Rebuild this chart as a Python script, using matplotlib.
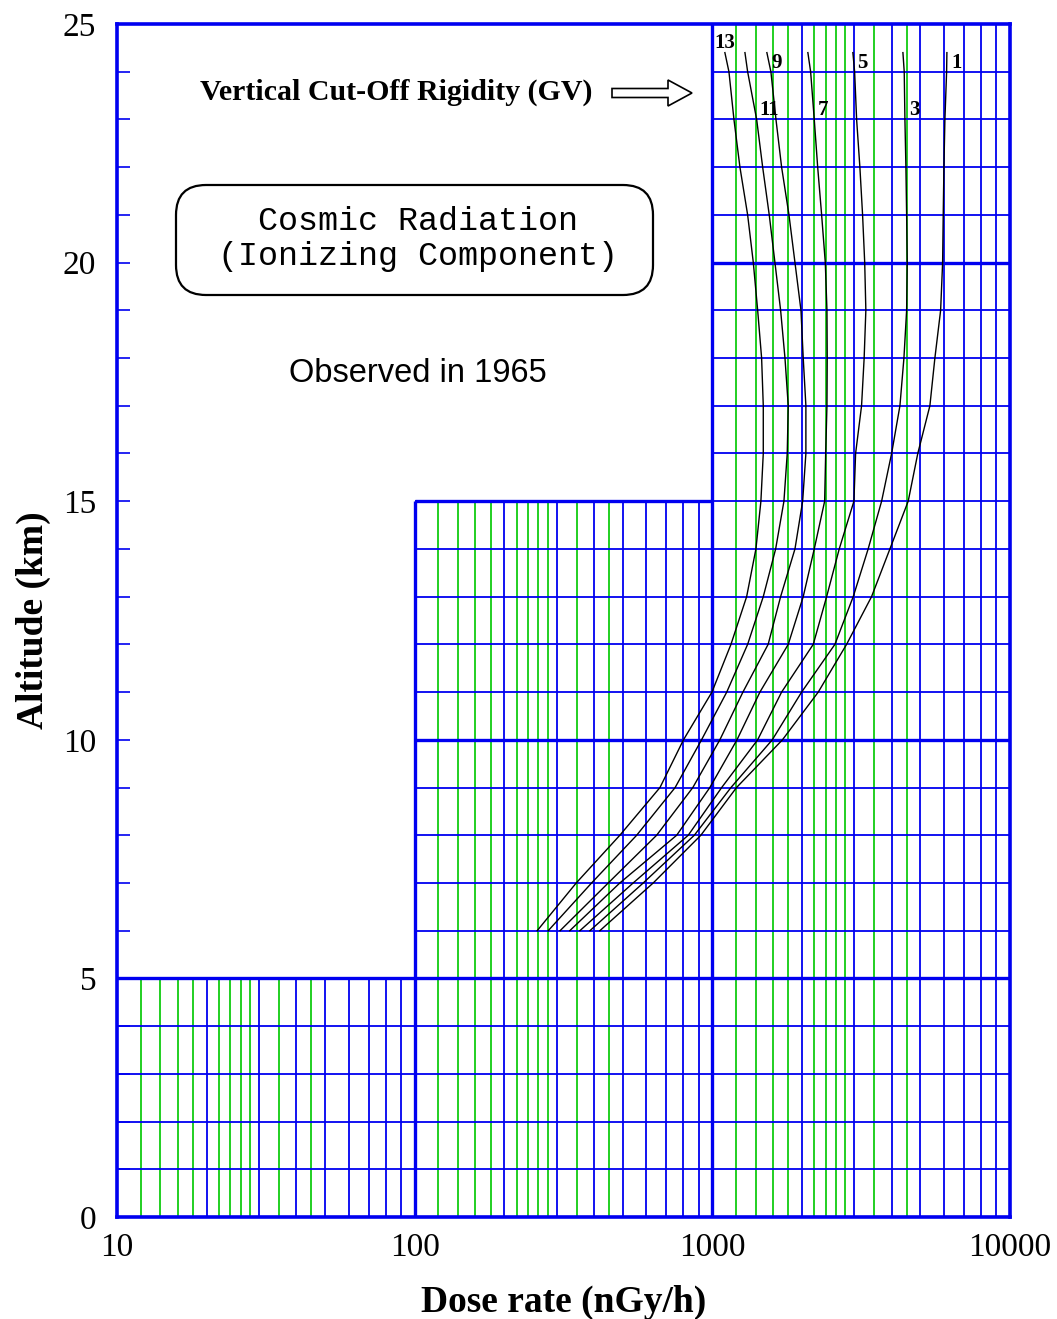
import numpy as np
import matplotlib
matplotlib.use("Agg")
import matplotlib.pyplot as plt
from matplotlib.patches import FancyArrow, FancyBboxPatch
from matplotlib.ticker import NullLocator, FixedLocator

# altitude (km) at which each curve was read
altitude = [6, 7, 8, 9, 10, 11, 12, 13, 14, 15, 16, 17, 18, 19, 20, 21, 22, 23, 24, 24.4]

# vertical cut-off rigidity (GV) of each curve
rigidity = ["13", "11", "9", "7", "5", "3", "1"]

# dose rate (nGy/h) of each curve at the altitudes above
dose_13 = [258, 349, 489, 667, 800, 997, 1155, 1304, 1401, 1456, 1483, 1483, 1464, 1420, 1373, 1314, 1238, 1182, 1137, 1102]
dose_11 = [281, 393, 557, 750, 920, 1118, 1314, 1483, 1632, 1740, 1785, 1799, 1754, 1696, 1623, 1553, 1476, 1409, 1314, 1287]
dose_9 = [308, 447, 650, 860, 1060, 1267, 1540, 1696, 1895, 2011, 2062, 2062, 2020, 1985, 1895, 1809, 1709, 1636, 1573, 1525]
dose_7 = [332, 489, 759, 981, 1210, 1445, 1799, 2020, 2200, 2384, 2403, 2427, 2432, 2427, 2396, 2329, 2259, 2200, 2139, 2094]
dose_5 = [359, 542, 830, 1075, 1420, 1709, 2183, 2421, 2669, 2990, 3029, 3172, 3236, 3279, 3250, 3197, 3131, 3053, 3006, 2966]
dose_3 = [388, 586, 870, 1155, 1590, 1995, 2581, 2974, 3338, 3704, 4002, 4268, 4402, 4495, 4516, 4495, 4470, 4436, 4412, 4368]
dose_1 = [419, 633, 915, 1206, 1720, 2269, 2825, 3427, 3950, 4550, 4900, 5381, 5593, 5847, 5938, 5966, 5998, 6044, 6124, 6138]
doses = [dose_13, dose_11, dose_9, dose_7, dose_5, dose_3, dose_1]

x_ticks = [10, 100, 1000, 10000]
x_tick_labels = ["10", "100", "1000", "10000"]

BLUE = "#0000f0"
GREEN = "#10cc10"
SERIF = "Liberation Serif"

W, H = 1057, 1319
fig = plt.figure(figsize=(W / 100, H / 100), dpi=100)
ax = fig.add_axes([117 / W, 1 - 1217 / H, (1010 - 117) / W, (1217 - 24) / H])
ax.set_xscale("log")
ax.set_xlim(10, 10000)
ax.set_ylim(0, 25)

# stepped graph-paper grid
green_mant = [1.2, 1.4, 1.6, 1.8, 2.2, 2.4, 2.6, 2.8, 3.5, 4.5]
blue_mant = [2, 3, 4, 5, 6, 7, 8, 9]
region_top = {10: 5, 100: 15, 1000: 25}
thin, thick = 1.3, 2.4
for d, top in region_top.items():
    ax.vlines([d * m for m in green_mant], 0, top, color=GREEN, lw=thin, zorder=1)
    ax.vlines([d * m for m in blue_mant], 0, top, color=BLUE, lw=thin, zorder=1)
ax.vlines(100, 0, 15, color=BLUE, lw=thick, zorder=2)
ax.vlines(1000, 0, 25, color=BLUE, lw=thick, zorder=2)
for h in range(1, 25):
    x0 = 10 if h <= 5 else (100 if h <= 15 else 1000)
    ax.hlines(h, x0, 10000, color=BLUE, lw=thick if h in (5, 10, 20) else thin, zorder=2)
ax.hlines(15, 100, 1000, color=BLUE, lw=thick, zorder=2)

for s in ax.spines.values():
    s.set_color(BLUE)
    s.set_linewidth(2.6)

# curves
for i, (lab, d) in enumerate(zip(rigidity, doses)):
    ax.plot(d, altitude, color="black", lw=1.0, zorder=3)
    if i == 0:
        ax.annotate(lab, (d[-1], altitude[-1]), xytext=(0, 0), textcoords="offset points",
                    ha="center", va="bottom", fontsize=15, fontweight="bold", family=SERIF)
    elif i % 2 == 0:
        ax.annotate(lab, (d[-1], altitude[-1]), xytext=(3, 0), textcoords="offset points",
                    ha="left", va="top", fontsize=15, fontweight="bold", family=SERIF)
    else:
        y = 23.2
        x = np.interp(y, altitude, d)
        ax.annotate(lab, (x, y), xytext=(3, 0), textcoords="offset points",
                    ha="left", va="center", fontsize=15, fontweight="bold", family=SERIF)

# ticks
ax.set_xticks(x_ticks)
ax.set_xticklabels(x_tick_labels)
ax.xaxis.set_minor_locator(NullLocator())
ax.tick_params(axis="x", length=0, pad=11, labelsize=24)
ax.yaxis.set_major_locator(FixedLocator([0, 5, 10, 15, 20, 25]))
ax.yaxis.set_minor_locator(FixedLocator([h for h in range(1, 25) if h % 5]))
ax.tick_params(axis="y", which="both", direction="in", length=9.5, width=1.2,
               color=BLUE, pad=15, labelsize=24)
for t in ax.get_xticklabels() + ax.get_yticklabels():
    t.set_family(SERIF)

ax.set_xlabel("Dose rate (nGy/h)", fontsize=27, fontweight="bold", family=SERIF)
ax.xaxis.set_label_coords(0.5, -0.057)
ax.set_ylabel("Altitude (km)", fontsize=27, fontweight="bold", family=SERIF)
ax.yaxis.set_label_coords(-0.074, 0.5)

# annotations
fig.text(200 / W, 1 - 92 / H, "Vertical Cut-Off Rigidity (GV)", ha="left", va="center",
         fontsize=21.5, fontweight="bold", family=SERIF)
fig.add_artist(FancyArrow(6.12, (H - 93) / 100, 0.56, 0, width=0.09, head_width=0.26,
                          head_length=0.24, length_includes_head=False, fc="white",
                          ec="black", lw=1.2, transform=fig.dpi_scale_trans))
fig.add_artist(FancyBboxPatch((1.76, (H - 295) / 100), 4.77, 1.10,
                              boxstyle="round,pad=0,rounding_size=0.3", fc="white",
                              ec="black", lw=1.6, transform=fig.dpi_scale_trans))
fig.text(418 / W, 1 - 239 / H, "Cosmic Radiation\n(Ionizing Component)", ha="center",
         va="center", fontsize=24, family="Liberation Mono", linespacing=1.2)
fig.text(418 / W, 1 - 374 / H, "Observed in 1965", ha="center", va="center",
         fontsize=23.5, family="Liberation Sans")

fig.savefig("out.png", dpi=100)
